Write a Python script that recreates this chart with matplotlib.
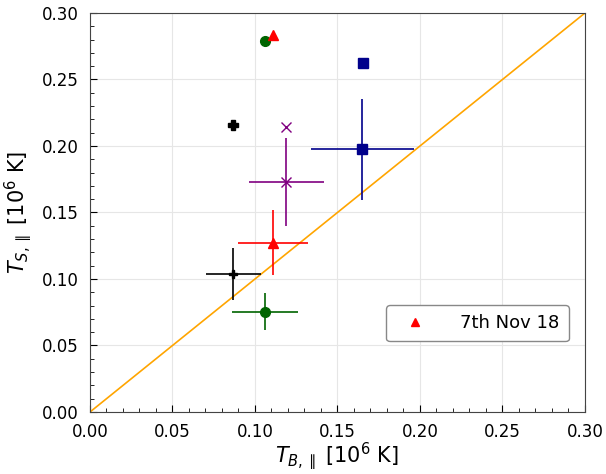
import matplotlib
matplotlib.use("Agg")
import matplotlib.pyplot as plt
from matplotlib.ticker import MultipleLocator

# error-bar points
tb = [0.0869, 0.1061, 0.1109, 0.1190, 0.1650]
ts = [0.1038, 0.0754, 0.1273, 0.1729, 0.1977]
tb_err = [0.0165, 0.0200, 0.0210, 0.0226, 0.0313]
ts_err = [0.0197, 0.0140, 0.0242, 0.0330, 0.0380]
colors = ["black", "darkgreen", "red", "purple", "darkblue"]
markers = ["P", "o", "^", "x", "s"]

# single points
tb2 = [0.0869, 0.1059, 0.1111, 0.1190, 0.1653]
ts2 = [0.2158, 0.2792, 0.2835, 0.2140, 0.2627]

legend_label = "7th Nov 18"

fig = plt.figure(figsize=(6.06, 4.74), dpi=100)
ax = fig.add_axes([0.1485, 0.1308, 0.8168, 0.8418])

ax.plot([0, 0.3], [0, 0.3], color="orange", lw=1.2, zorder=2)

for i in range(len(tb)):
    ax.errorbar(tb[i], ts[i], xerr=tb_err[i], yerr=ts_err[i], color=colors[i],
                marker=markers[i], ms=7 if markers[i] != "P" else 6, lw=1.2,
                capsize=0, zorder=3)
    ax.plot(tb2[i], ts2[i], linestyle="none", color=colors[i], marker=markers[i],
            ms=7, zorder=3)

ax.plot([], [], linestyle="none", marker="^", color="red", ms=6, label=legend_label)

ax.set_xlim(0, 0.3)
ax.set_ylim(0, 0.3)
ax.xaxis.set_major_locator(MultipleLocator(0.05))
ax.yaxis.set_major_locator(MultipleLocator(0.05))
ax.xaxis.set_minor_locator(MultipleLocator(0.01))
ax.yaxis.set_minor_locator(MultipleLocator(0.01))
ax.tick_params(which="both", direction="in", top=False, right=False, labelsize=12)
ax.tick_params(axis="x", which="major", length=5, pad=8)
ax.tick_params(axis="y", which="major", length=5, pad=8)
ax.tick_params(which="minor", length=3)
ax.grid(True, color="#e6e6e6", lw=0.8, zorder=0)
for s in ax.spines.values():
    s.set_color("#444444")

ax.set_xlabel(r"$T_{B,\parallel}$ [$10^6$ K]", fontsize=15, labelpad=0)
ax.set_ylabel(r"$T_{S,\parallel}$ [$10^6$ K]", fontsize=15, labelpad=6)

leg = ax.legend(loc="lower right", fontsize=13, borderpad=0.5, handletextpad=1.4,
                handlelength=2.2, bbox_to_anchor=(0.985, 0.155))
leg.get_frame().set_edgecolor("#888888")
leg.get_frame().set_alpha(1)

fig.savefig("out.png", dpi=100)
